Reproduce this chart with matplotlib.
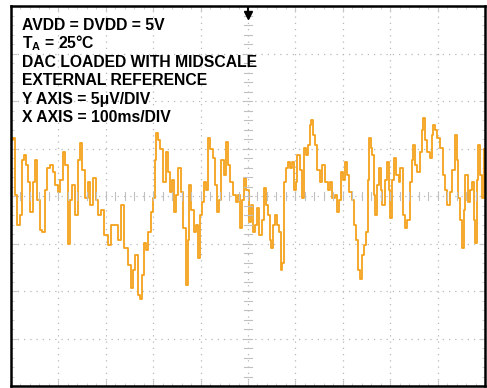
import matplotlib.pyplot as plt
from matplotlib.ticker import MultipleLocator

plt.rcParams['font.family'] = ['Liberation Sans', 'DejaVu Sans']
plt.rcParams['mathtext.fontset'] = 'custom'
plt.rcParams['mathtext.rm'] = 'Liberation Sans'
plt.rcParams['mathtext.bf'] = 'Liberation Sans:bold'

# noise trace, time in ms and output in uV around midscale
time_ms = [0, 4, 8, 13, 19, 23, 27, 32, 36, 40, 46, 51, 55, 61, 65, 72, 76, 82, 89, 93,
           99, 103, 110, 114, 120, 124, 129, 135, 141, 146, 150, 156, 162, 167, 173, 179, 184, 190, 196, 205,
           211, 219, 226, 232, 238, 247, 253, 257, 262, 268, 272, 276, 281, 285, 289, 295, 300, 304, 306, 310,
           314, 321, 327, 331, 335, 340, 344, 348, 352, 359, 363, 369, 373, 376, 380, 386, 390, 395, 399, 403,
           407, 411, 416, 420, 426, 430, 435, 439, 443, 449, 454, 458, 462, 468, 475, 479, 483, 487, 492, 496,
           502, 506, 511, 515, 519, 523, 530, 534, 538, 542, 546, 549, 553, 557, 561, 565, 570, 572, 576, 580,
           584, 589, 593, 597, 601, 604, 610, 614, 618, 622, 627, 631, 633, 637, 641, 646, 652, 656, 663, 669,
           673, 677, 684, 688, 692, 696, 701, 705, 709, 713, 720, 724, 728, 732, 736, 741, 745, 749, 753, 755,
           760, 762, 766, 768, 772, 776, 781, 783, 789, 793, 798, 800, 804, 808, 812, 819, 821, 827, 831, 836,
           842, 846, 848, 852, 857, 863, 867, 869, 874, 878, 884, 888, 890, 895, 899, 905, 912, 916, 920, 926,
           930, 937, 941, 943, 947, 952, 956, 958, 964, 969, 973, 977, 979, 983, 985, 990, 994, 998]
noise_uv = [5.9, 6.1, 0.1, -3.1, -2.0, 3.8, 4.3, 3.3, 1.5, -1.7, 1.5, 3.8, -0.4, -3.6, -3.8, 0.6, 3.0, 3.3, 2.5, 1.2,
            0.4, 1.7, 4.6, 3.3, -5.0, -0.4, 1.2, -2.0, 3.8, 5.6, 2.7, -0.2, 1.5, -0.9, 1.9, -0.4, -2.0, -1.5, -4.1, -5.2,
            -3.1, -3.1, -4.6, -0.9, -5.5, -7.3, -9.7, -7.8, -6.2, -10.4, -10.8, -8.3, -4.9, -5.7, -3.8, -1.7, -0.2, 3.8, 6.6, 5.9,
            4.9, 1.5, 4.6, 2.5, 0.4, 1.7, -1.7, 0.1, 3.0, 0.4, -3.4, -9.4, -4.6, 1.2, -1.5, -3.8, -3.1, -6.5, -2.0, -0.6,
            1.5, 0.6, 6.1, 4.9, 4.0, 1.2, -1.7, -0.4, 3.8, 2.2, 5.7, 3.3, 1.5, 0.1, -0.6, 0.1, -3.4, -0.4, 1.9, 0.6,
            -2.7, -0.9, -3.8, -3.1, -1.3, -4.1, -2.5, 0.8, -0.9, -2.0, -4.6, -5.5, -3.1, -2.0, -3.1, -3.8, -7.8, -7.0, 1.5, 3.0,
            3.6, 3.0, 3.6, 0.6, 1.5, 4.3, 2.7, -0.2, 5.1, 4.3, 5.4, 7.5, 8.0, 6.4, 5.4, 2.7, 1.5, 3.3, 1.5, 0.6,
            1.5, -0.2, 0.1, -1.7, -0.4, 2.5, 1.7, 3.6, 2.2, 0.4, -0.4, -3.1, -4.6, -7.8, -8.7, -6.2, -5.2, -3.8, 1.7, 6.1,
            5.1, 4.3, 0.1, -2.0, 1.2, 3.0, 0.6, -0.9, 1.7, 3.6, 0.6, -2.3, 1.7, 4.0, 2.2, 1.5, 3.0, -2.0, -3.4, -2.5,
            1.5, 3.8, 5.4, 3.3, 2.5, 4.6, 7.0, 8.2, 5.9, 4.6, 4.0, 6.4, 7.5, 7.0, 6.1, 5.1, 2.2, 0.6, -0.9, 0.4,
            2.7, 6.4, 3.8, -0.2, -2.5, -5.5, -1.5, 2.2, -0.6, 0.6, 1.5, -2.5, -4.9, 1.7, 5.4, 2.2, -0.2, 4.9]

notes = ['AVDD = DVDD = 5V',
         r'T$_\mathbf{A}$ = 25°C',
         'DAC LOADED WITH MIDSCALE',
         'EXTERNAL REFERENCE',
         'Y AXIS = 5μV/DIV',
         'X AXIS = 100ms/DIV']

fig = plt.figure(figsize=(4.87, 3.88), dpi=100)
ax = fig.add_axes([11 / 487, 2 / 388, 474 / 487, 380 / 388])

ax.plot(time_ms, noise_uv, color='#F4A21C', lw=1.3, drawstyle='steps-post')

ax.set_xlim(0, 1000)
ax.set_ylim(-20, 20)

# scope graticule: dotted divisions plus ticked center lines
ax.xaxis.set_major_locator(MultipleLocator(100))
ax.yaxis.set_major_locator(MultipleLocator(5))
ax.xaxis.set_minor_locator(MultipleLocator(20))
ax.yaxis.set_minor_locator(MultipleLocator(1))
ax.grid(True, which='major', color='#b8b8b8', linestyle=(0, (1, 4)), lw=0.9)
ax.tick_params(which='both', direction='in', colors='#c8c8c8', labelbottom=False, labelleft=False,
               top=True, right=True)
ax.tick_params(which='major', length=4)
ax.tick_params(which='minor', length=2.5)
for t in range(0, 1001, 20):
    ax.plot([t, t], [-0.4, 0.4], color='#c0c0c0', lw=0.8)
for v in range(-20, 21):
    ax.plot([492, 508], [v, v], color='#c0c0c0', lw=0.8)

for s in ax.spines.values():
    s.set_linewidth(1.8)
    s.set_color('black')

# trigger marker at the top
ax.plot(500, 19.1, marker='v', color='black', markersize=6, clip_on=False)
ax.plot([500, 500], [19.3, 20], color='black', lw=1.5)

for i, line in enumerate(notes):
    ax.text(0.023, 0.937 - i * 0.0485, line, transform=ax.transAxes, fontsize=11.3,
            fontweight='bold', va='baseline', ha='left')

fig.savefig('out.png', dpi=100)
